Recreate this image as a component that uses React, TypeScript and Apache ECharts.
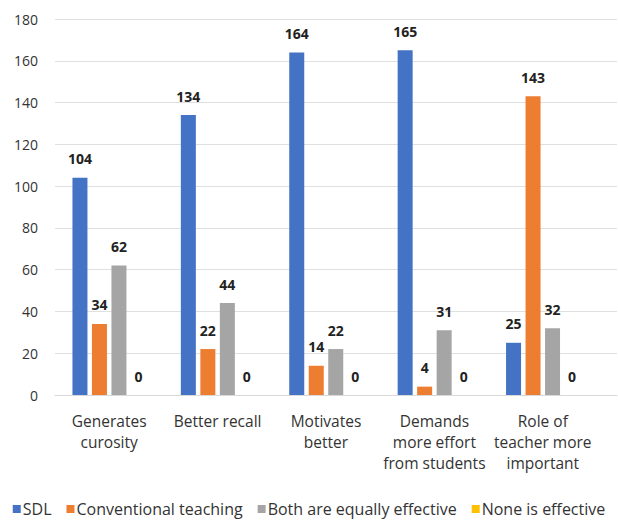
import React, { useEffect, useRef } from "react";
import * as echarts from "echarts";

const categories = [
  "Generates\ncurosity",
  "Better recall",
  "Motivates\nbetter",
  "Demands\nmore effort\nfrom students",
  "Role of\nteacher more\nimportant",
];
const seriesNames = ["SDL", "Conventional teaching", "Both are equally effective", "None is effective"];
const sdl = [104, 134, 164, 165, 25];
const conventional = [34, 22, 14, 4, 143];
const both = [62, 44, 22, 31, 32];
const none = [0, 0, 0, 0, 0];
const colors = ["#4472C4", "#ED7D31", "#A5A5A5", "#FFC000"];

const FONT = "'Open Sans', 'Noto Sans', sans-serif";

export default function App() {
  const ref = useRef<HTMLDivElement>(null);
  useEffect(() => {
    if (!ref.current) return;
    const chart = echarts.init(ref.current, undefined, { renderer: "svg" });
    const data = [sdl, conventional, both, none];
    chart.setOption({
      animation: false,
      color: colors,
      textStyle: { fontFamily: FONT },
      grid: [
        { left: 55, right: 21, top: 19, bottom: 130 },
        { left: 55, right: 1, top: 19, bottom: 130 },
      ],
      legend: {
        bottom: 3,
        left: "center",
        itemWidth: 8,
        itemHeight: 8,
        itemGap: 15,
        icon: "rect",
        textStyle: { fontSize: 16, color: "#333", fontFamily: FONT, padding: [0, 0, 0, -3] },
        data: seriesNames,
      },
      xAxis: [
        {
          type: "category",
          gridIndex: 0,
          data: categories,
          axisLine: { show: false },
          axisTick: { show: false },
          axisLabel: { fontSize: 15.5, color: "#333", lineHeight: 21, margin: 15, interval: 0, fontFamily: FONT },
        },
        {
          type: "value",
          gridIndex: 1,
          min: 0,
          max: 1,
          axisLine: { show: true, lineStyle: { color: "#d9d9d9" } },
          axisTick: { show: false },
          axisLabel: { show: false },
          splitLine: { show: false },
        },
      ],
      yAxis: [
        {
          type: "value",
          gridIndex: 0,
          min: 0,
          max: 180,
          interval: 20,
          axisLine: { show: false },
          axisTick: { show: false },
          splitLine: { show: false },
          axisLabel: { fontSize: 14, color: "#333", margin: 17, fontFamily: FONT },
        },
        {
          type: "value",
          gridIndex: 1,
          min: 0,
          max: 180,
          interval: 20,
          axisLine: { show: false },
          axisTick: { show: false },
          axisLabel: { show: false },
          splitLine: { lineStyle: { color: "#e0e0e0" } },
        },
      ],
      series: seriesNames.map((name, i) => ({
        name,
        type: "bar",
        xAxisIndex: 0,
        yAxisIndex: 0,
        data: data[i],
        barWidth: 15,
        barGap: "30%",
        z: 3,
        label: {
          show: true,
          position: "top",
          distance: 12,
          fontSize: 14,
          fontWeight: "bold",
          color: "#222",
          fontFamily: FONT,
        },
      })),
    });
    return () => chart.dispose();
  }, []);
  return (
    <div
      ref={ref}
      style={{ position: "absolute", left: 0, top: 0, width: 618, height: 525, background: "#fff" }}
    />
  );
}
